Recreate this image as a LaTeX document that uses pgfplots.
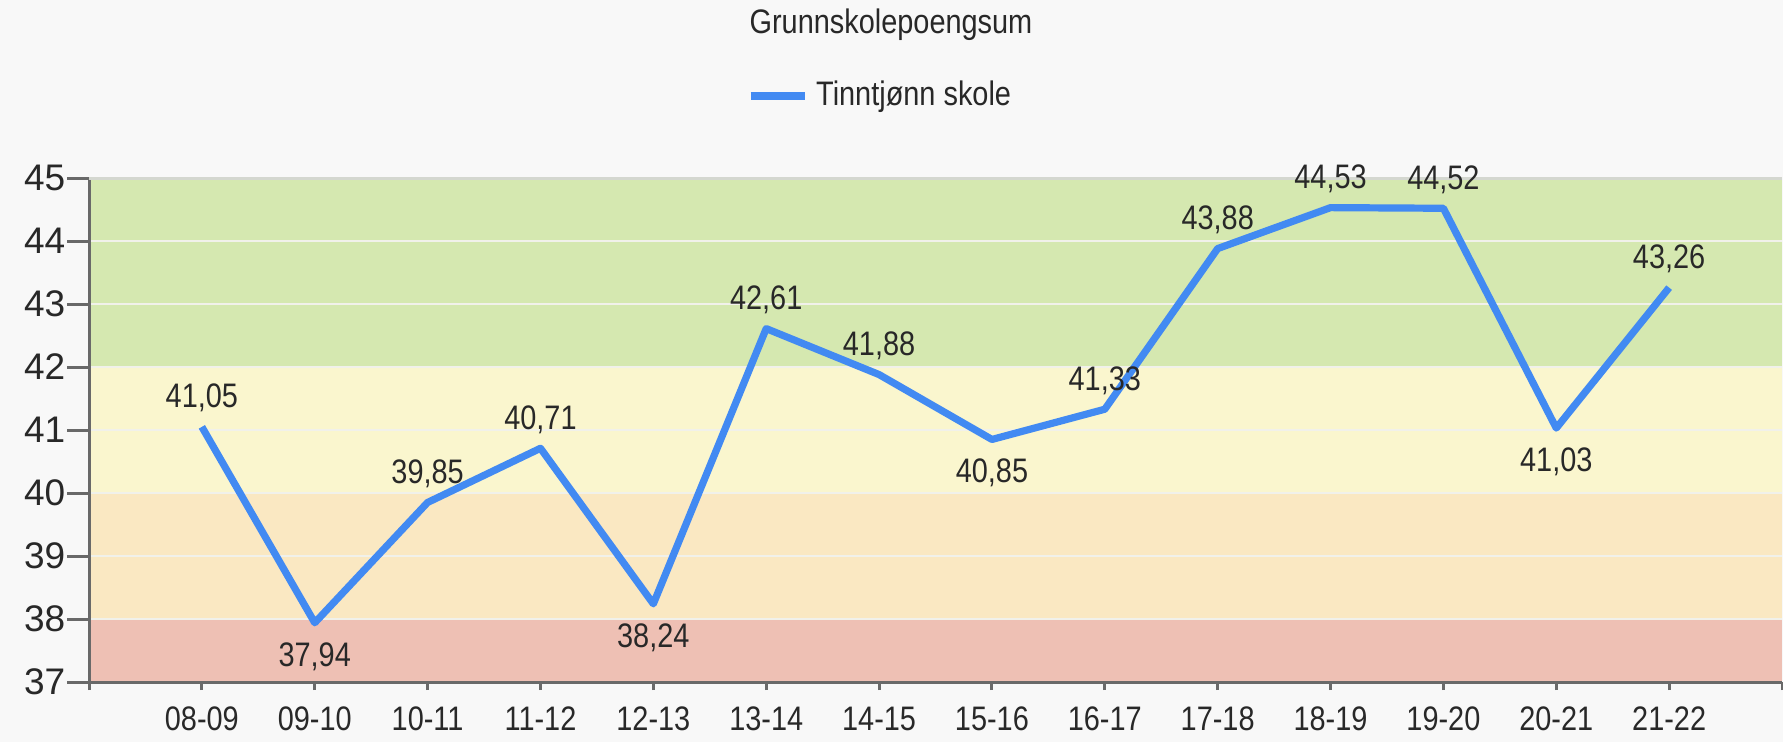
\documentclass[border=0pt]{standalone}
\usepackage{fontspec}
\setmainfont{Liberation Sans}[FakeStretch=0.85]
\newfontfamily\tickfont{Liberation Sans}
\usepackage{pgfplots}
\usepackage{pgfplotstable}
\pgfplotsset{compat=1.18}
\definecolor{bgc}{RGB}{248,248,248}
\definecolor{bgreen}{RGB}{213,232,176}
\definecolor{byellow}{RGB}{250,246,206}
\definecolor{borange}{RGB}{250,232,194}
\definecolor{bred}{RGB}{238,192,180}
\definecolor{lineblue}{RGB}{66,138,242}
\definecolor{gridc}{RGB}{241,241,234}
\definecolor{axc}{RGB}{105,105,105}
\definecolor{topc}{RGB}{212,215,208}
\definecolor{txt}{RGB}{40,40,40}

\pgfplotsset{
  layers/mylayers/.define layer set={
    bglayer, axis background, axis grid, axis ticks, axis lines,
    axis tick labels, pre main, main, axis descriptions, axis foreground
  }{},
}

\pgfplotstableread{
x y
1 41.05
2 37.94
3 39.85
4 40.71
5 38.24
6 42.61
7 41.88
8 40.85
9 41.33
10 43.88
11 44.53
12 44.52
13 41.03
14 43.26
}\data
\pgfplotstableread{
x y
1 41.05
3 39.85
4 40.71
6 42.61
7 41.88
9 41.33
10 43.88
11 44.53
12 44.52
14 43.26
}\above
\pgfplotstableread{
x y
2 37.94
5 38.24
8 40.85
13 41.03
}\below

\newcommand\lblfont{\fontsize{8.5bp}{10bp}\selectfont}

\begin{document}
\begin{tikzpicture}
\begin{axis}[
  at={(0,0)}, anchor=south west,
  scale only axis, width=423.25bp, height=126bp,
  xmin=0, xmax=15, ymin=37, ymax=45,
  set layers=mylayers,
  clip=false,
  axis x line=bottom, axis y line=left,
  axis line style={-, axc, line width=0.75bp},
  xtick={0,...,15},
  xticklabels={,08-09,09-10,10-11,11-12,12-13,13-14,14-15,15-16,16-17,17-18,18-19,19-20,20-21,21-22,},
  ytick={37,...,45},
  yticklabels={37,38,39,40,41,42,43,44,45},
  tick align=outside,
  major tick length=5.5bp,
  tick style={axc, line width=0.75bp},
  xtick style={/pgfplots/major tick length=2bp},
  ymajorgrids,
  grid style={gridc, line width=0.5bp},
  xticklabel style={font=\lblfont, text=txt, yshift=2.85bp},
  yticklabel style={font=\tickfont\fontsize{9.25bp}{10bp}\selectfont, text=txt, xshift=3.1bp},
  every axis title shift=0pt,
  title={Grunnskolepoengsum},
  title style={at={(0.4737,1.3046)}, anchor=center, yshift=0pt, font=\lblfont, text=txt},
  legend style={at={(0.469,1.1627)}, anchor=center, draw=none, fill=none,
    font=\lblfont, text=txt, inner sep=0pt},
  legend image code/.code={\draw[#1] (0bp,0bp) -- (13.5bp,0bp);},
]
\begin{pgfonlayer}{bglayer}
\fill[bgc] (rel axis cs:-0.1,-0.2) rectangle (rel axis cs:1.1,1.5);
\end{pgfonlayer}
\addplot[draw=none, fill=bred, on layer=axis background, forget plot] coordinates {(0,37) (15,37) (15,38) (0,38)} -- cycle;
\addplot[draw=none, fill=borange, on layer=axis background, forget plot] coordinates {(0,38) (15,38) (15,40) (0,40)} -- cycle;
\addplot[draw=none, fill=byellow, on layer=axis background, forget plot] coordinates {(0,40) (15,40) (15,42) (0,42)} -- cycle;
\addplot[draw=none, fill=bgreen, on layer=axis background, forget plot] coordinates {(0,42) (15,42) (15,45) (0,45)} -- cycle;
\addplot[topc, line width=0.75bp, forget plot] coordinates {(0,45) (15,45)};

\addplot[lineblue, line width=1.8bp, mark=none, line join=round] table[x=x,y=y] {\data};
\addlegendentry{Tinntjønn skole}

\addplot[draw=none, mark=none, forget plot,
  nodes near coords={\pgfmathprintnumber[fixed,fixed zerofill,precision=2,use comma,assume math mode=true]{\pgfplotspointmeta}},
  every node near coord/.append style={anchor=base, inner sep=0pt, yshift=4.76bp, font=\lblfont, text=txt}]
  table[x=x,y=y] {\above};
\addplot[draw=none, mark=none, forget plot,
  nodes near coords={\pgfmathprintnumber[fixed,fixed zerofill,precision=2,use comma,assume math mode=true]{\pgfplotspointmeta}},
  every node near coord/.append style={anchor=base, inner sep=0pt, yshift=-10.84bp, font=\lblfont, text=txt}]
  table[x=x,y=y] {\below};
\end{axis}
\pgfresetboundingbox
\path[use as bounding box] (-22.25bp,-15bp) rectangle (423.5bp,170.5bp);
\end{tikzpicture}
\end{document}
